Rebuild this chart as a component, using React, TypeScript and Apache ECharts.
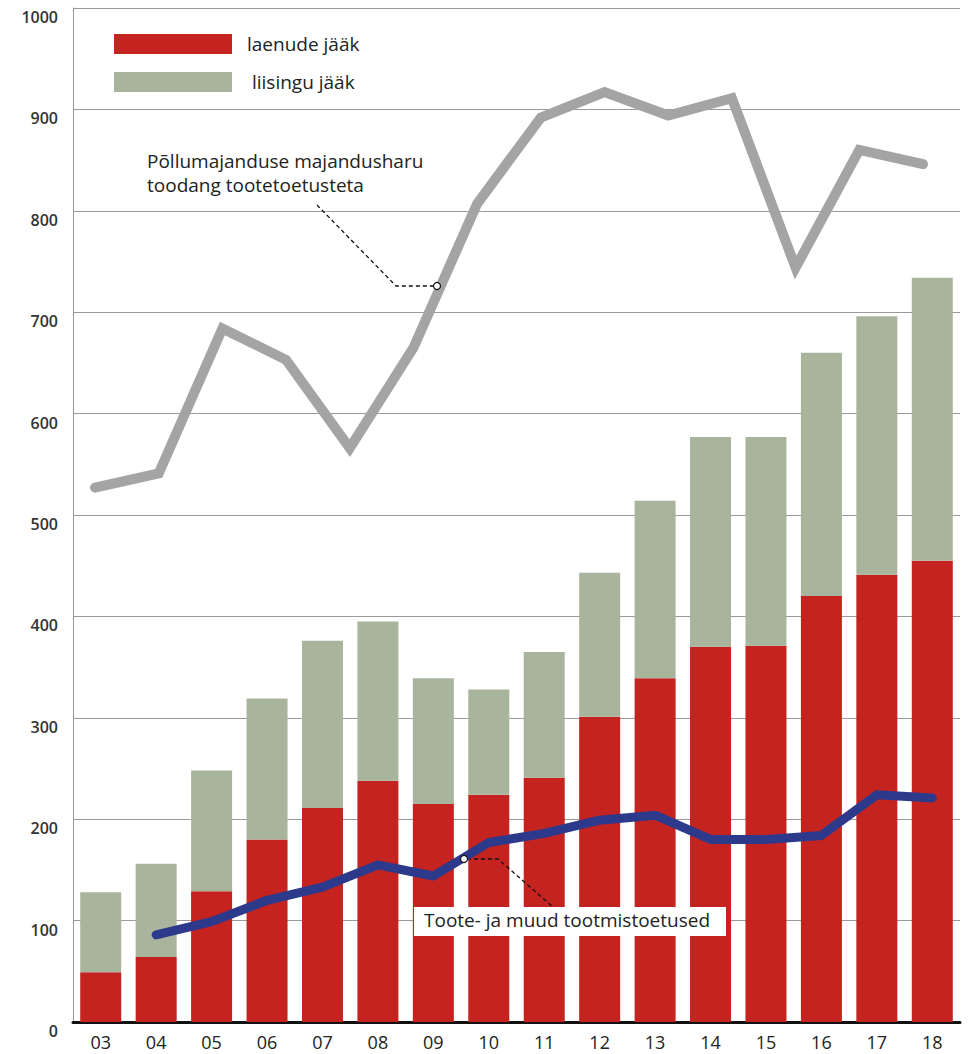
import React, { useEffect, useRef } from "react";
import * as echarts from "echarts";

const years = ["03", "04", "05", "06", "07", "08", "09", "10", "11", "12", "13", "14", "15", "16", "17", "18"];
const loans = [49, 64, 129, 180, 211, 238, 215, 224, 241, 301, 339, 370, 371, 420, 441, 455];
const leasing = [79, 92, 119, 139, 165, 157, 124, 104, 124, 142, 175, 207, 206, 240, 255, 279];
const subsidies = [null, 86, 99, 120, 133, 155, 144, 177, 186, 199, 204, 180, 180, 184, 224, 221];
const outputCats = ["1", "2", "3", "4", "5", "6", "7", "8", "9", "10", "11", "12", "13", "14"];
const output = [527, 541, 684, 653, 566, 665, 807, 892, 917, 894, 911, 744, 860, 846];
const yTicks = { min: 0, max: 1000, interval: 100 };

const FONT = "'Open Sans', 'Noto Sans', sans-serif";

export default function App() {
  const ref = useRef<HTMLDivElement>(null);
  useEffect(() => {
    if (!ref.current) return;
    const chart = echarts.init(ref.current, null, { renderer: "svg" });
    const dash = { stroke: "#111", lineWidth: 1.3, lineDash: [4, 3], fill: "none" };
    chart.setOption({
      animation: false,
      textStyle: { fontFamily: FONT },
      legend: {
        show: true,
        orient: "vertical",
        left: 114,
        top: 34,
        padding: 0,
        itemWidth: 118,
        itemHeight: 20,
        itemGap: 18,
        icon: "rect",
        selectedMode: false,
        data: ["laenude jääk", "liisingu jääk"],
        formatter: (n: string) => (n === "liisingu jääk" ? " " + n : n),
        textStyle: { fontSize: 19, color: "#222", fontFamily: FONT, padding: [0, 0, 0, 10] },
      },
      grid: [
        { left: 73, right: 9, top: 8, bottom: 32, containLabel: false },
        { left: 95, right: 46, top: 8, bottom: 32, containLabel: false },
      ],
      xAxis: [
        {
          type: "category",
          gridIndex: 0,
          data: years,
          axisLine: { show: true, lineStyle: { color: "#111", width: 3 } },
          axisTick: { show: false },
          axisLabel: { fontSize: 18, color: "#222", margin: 11, fontFamily: FONT },
          splitLine: { show: false },
        },
        {
          type: "category",
          gridIndex: 1,
          data: outputCats,
          boundaryGap: false,
          show: false,
        },
      ],
      yAxis: [
        {
          type: "value",
          gridIndex: 0,
          ...yTicks,
          axisLine: { show: true, lineStyle: { color: "#999", width: 1 } },
          axisTick: { show: false },
          axisLabel: {
            fontSize: 16,
            fontWeight: 600,
            color: "#333",
            margin: 15,
            verticalAlign: "top",
            lineHeight: 18,
            formatter: (v: number) => String(v),
            fontFamily: FONT,
          },
          splitLine: { show: true, lineStyle: { color: "#9a9a9a", width: 1 } },
        },
        {
          type: "value",
          gridIndex: 1,
          ...yTicks,
          show: false,
          splitLine: { show: false },
        },
      ],
      series: [
        {
          name: "laenude jääk",
          type: "bar",
          stack: "s",
          data: loans,
          barWidth: 41,
          itemStyle: { color: "#c4231f" },
          xAxisIndex: 0,
          yAxisIndex: 0,
        },
        {
          name: "liisingu jääk",
          type: "bar",
          stack: "s",
          data: leasing,
          barWidth: 41,
          itemStyle: { color: "#a8b59c" },
          xAxisIndex: 0,
          yAxisIndex: 0,
        },
        {
          name: "Põllumajanduse majandusharu toodang tootetoetusteta",
          type: "line",
          data: output,
          xAxisIndex: 1,
          yAxisIndex: 1,
          showSymbol: false,
          lineStyle: { color: "#a4a4a4", width: 10, cap: "round", join: "miter" },
          z: 3,
        },
        {
          name: "Toote- ja muud tootmistoetused",
          type: "line",
          data: subsidies,
          xAxisIndex: 0,
          yAxisIndex: 0,
          showSymbol: false,
          lineStyle: { color: "#2d3a8c", width: 9, cap: "round", join: "round" },
          z: 12,
        },
      ],
      graphic: [
        {
          type: "text",
          z: 20,
          style: {
            text: "Põllumajanduse majandusharu",
            x: 147,
            y: 161,
            font: `19px ${FONT}`,
            fill: "#222",
            textVerticalAlign: "middle",
          },
        },
        {
          type: "text",
          z: 20,
          style: {
            text: "toodang tootetoetusteta",
            x: 147,
            y: 185,
            font: `19px ${FONT}`,
            fill: "#222",
            textVerticalAlign: "middle",
          },
        },
        {
          type: "polyline",
          z: 20,
          shape: { points: [[317, 205], [396, 286], [434, 286]] },
          style: dash,
        },
        {
          type: "circle",
          z: 21,
          shape: { cx: 437, cy: 286, r: 3.5 },
          style: { fill: "#fff", stroke: "#111", lineWidth: 1.2 },
        },
        {
          type: "rect",
          z: 10,
          shape: { x: 414, y: 907, width: 312, height: 29 },
          style: { fill: "#fff" },
        },
        {
          type: "text",
          z: 11,
          style: {
            text: "Toote- ja muud tootmistoetused",
            x: 424,
            y: 920,
            font: `19px ${FONT}`,
            fill: "#222",
            textVerticalAlign: "middle",
          },
        },
        {
          type: "polyline",
          z: 11,
          shape: { points: [[467, 859], [498, 859], [553, 907]] },
          style: dash,
        },
        {
          type: "circle",
          z: 21,
          shape: { cx: 464, cy: 859, r: 3.5 },
          style: { fill: "#fff", stroke: "#111", lineWidth: 1.2 },
        },
      ],
    });
    return () => chart.dispose();
  }, []);
  return (
    <div
      ref={ref}
      style={{ position: "absolute", left: 0, top: 0, width: 969, height: 1054, background: "#fff" }}
    />
  );
}
